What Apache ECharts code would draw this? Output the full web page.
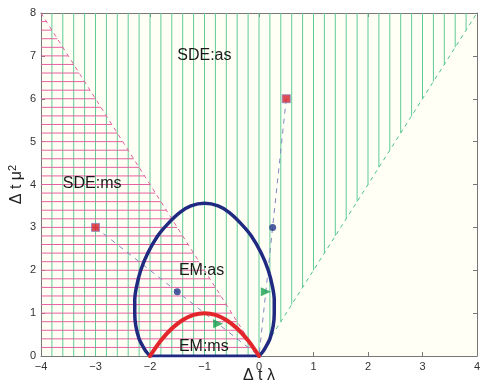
<!DOCTYPE html>
<html><head><meta charset="utf-8">
<script src="https://cdn.jsdelivr.net/npm/echarts@6/dist/echarts.min.js"></script>
<style>html,body{margin:0;padding:0;background:#fff}#c{width:480px;height:387px}</style>
</head><body><div id="c"></div>
<script>
// ---- data ----
const xTicks = [-4, -3, -2, -1, 0, 1, 2, 3, 4];
const yTicks = [0, 1, 2, 3, 4, 5, 6, 7, 8];
// SDE boundaries (dashed lines)
const sdeMsLine = [[-4, 8], [0, 0]];
const sdeAsLine = [[0, 0], [4, 8]];
// EM mean-square boundary (red)
const emMsX = [-2, -1.8, -1.6, -1.4, -1.2, -1, -0.8, -0.6, -0.4, -0.2, 0];
const emMsY = [0, 0.36, 0.64, 0.84, 0.96, 1, 0.96, 0.84, 0.64, 0.36, 0];
// EM asymptotic boundary (blue)
const emAsX = [-2.00, -2.07, -2.12, -2.20, -2.26, -2.28, -2.28, -2.25, -2.17, -2.04, -1.86, -1.66, -1.45, -1.25, -1.00,
               -0.75, -0.55, -0.34, -0.14, 0.04, 0.17, 0.25, 0.28, 0.28, 0.26, 0.20, 0.12, 0.07, 0.00];
const emAsY = [0, 0.1, 0.2, 0.4, 0.7, 1.0, 1.3, 1.6, 2.0, 2.4, 2.8, 3.1, 3.35, 3.5, 3.56,
               3.5, 3.35, 3.1, 2.8, 2.4, 2.0, 1.6, 1.3, 1.0, 0.7, 0.4, 0.2, 0.1, 0];
const emAsBase = [[-2, 0], [0, 0]];
// sample points
const squaresX = [-3, 0.5], squaresY = [3, 6];
const dotsX = [-1.5, 0.25], dotsY = [1.5, 3];
const triX = [-0.75, 0.125], triY = [0.75, 1.5];
// region labels
const labelText = ['SDE:as', 'SDE:ms', 'EM:as', 'EM:ms'];
const labelX = [-1.5, -3.6, -1.47, -1.47];
const labelY = [7.0, 4.02, 2.0, 0.23];
const hatchStep = 0.2;

// ---- hatching (texture for the SDE regions) ----
const greenHatch = [];
for (let k = -19; k <= 19; k++) {
  const x = k * hatchStep;
  const yb = Math.max(0, x * (sdeAsLine[1][1] / sdeAsLine[1][0]));
  if (yb < 8) greenHatch.push([x, yb, x, 8]);
}
const pinkHatch = [];
for (let k = 1; k <= 39; k++) {
  const y = k * hatchStep;
  const xe = y * (sdeMsLine[0][0] / sdeMsLine[0][1]);
  pinkHatch.push([-4, y, xe, y]);
}

const FONT = 'Liberation Sans, Arial, Helvetica, sans-serif';
const zip = (a, b) => a.map((v, i) => [v, b[i]]);
const minus = v => (v < 0 ? '\u2212' + (-v) : String(v));

function segSeries(data, color, z) {
  return {
    type: 'custom', data: data, z: z, silent: true, clip: true,
    encode: { x: [0, 2], y: [1, 3] },
    renderItem: function (params, api) {
      const p1 = api.coord([api.value(0), api.value(1)]);
      const p2 = api.coord([api.value(2), api.value(3)]);
      return { type: 'line', shape: { x1: p1[0], y1: p1[1], x2: p2[0], y2: p2[1] },
               style: { stroke: color, lineWidth: 1 } };
    }
  };
}
function dashLine(pts, color, dash, z) {
  return { type: 'line', data: pts, showSymbol: false, silent: true, z: z,
           lineStyle: { color: color, width: 1, type: dash } };
}

const chart = echarts.init(document.getElementById('c'), null, { renderer: 'canvas' });
chart.setOption({
  animation: false,
  backgroundColor: '#ffffff',
  grid: { left: 41, right: 3, top: 13, bottom: 31, show: true, backgroundColor: '#fffff6', borderWidth: 0,
          containLabel: false, outerBoundsMode: 'none' },
  xAxis: [{
    type: 'value', min: -4, max: 4, interval: 1,
    axisLine: { show: true, onZero: false, lineStyle: { color: '#777', width: 1 } },
    axisTick: { inside: true, length: 4, lineStyle: { color: '#777' } },
    axisLabel: { formatter: minus, color: '#333', fontSize: 11, fontFamily: FONT, margin: 5 },
    splitLine: { show: false },
    name: '{a|\u0394 t \u03bb}', nameLocation: 'middle', nameGap: 12, nameMoveOverlap: false,
    nameTextStyle: { rich: { a: { fontSize: 16, fontFamily: FONT, color: '#222' } } }
  }, {
    type: 'value', position: 'top', min: -4, max: 4, interval: 1,
    axisLine: { show: true, onZero: false, lineStyle: { color: '#777', width: 1 } },
    axisTick: { inside: true, length: 4, lineStyle: { color: '#777' } },
    axisLabel: { show: false }, splitLine: { show: false }
  }],
  yAxis: [{
    type: 'value', min: 0, max: 8, interval: 1,
    axisLine: { show: true, onZero: false, lineStyle: { color: '#777', width: 1 } },
    axisTick: { inside: true, length: 4, lineStyle: { color: '#777' } },
    axisLabel: { color: '#333', fontSize: 11, fontFamily: FONT, margin: 5 },
    splitLine: { show: false },
    name: '{a|\u0394 t \u03bc}{s|2}', nameLocation: 'middle', nameGap: 15, nameRotate: 90, nameMoveOverlap: false,
    nameTextStyle: { rich: {
      a: { fontSize: 16, fontFamily: FONT, color: '#222' },
      s: { fontSize: 11, fontFamily: FONT, color: '#222', verticalAlign: 'top', padding: [0, 0, 8, 0] }
    } }
  }, {
    type: 'value', position: 'right', min: 0, max: 8, interval: 1,
    axisLine: { show: true, onZero: false, lineStyle: { color: '#777', width: 1 } },
    axisTick: { inside: true, length: 4, lineStyle: { color: '#777' } },
    axisLabel: { show: false }, splitLine: { show: false }
  }],
  series: [
    segSeries(greenHatch, '#5fcb95', 1),
    segSeries(pinkHatch, '#e5609f', 2),
    dashLine(sdeMsLine, '#e5609f', [4, 4], 3),
    dashLine(sdeAsLine, '#4fc48a', [4, 4], 3),
    dashLine([[squaresX[0], squaresY[0]], [0, 0]], '#8088c0', [5, 5], 4),
    dashLine([[squaresX[1], squaresY[1]], [0, 0]], '#8088c0', [5, 5], 4),
    { type: 'line', data: zip(emAsX, emAsY), showSymbol: false, smooth: 0.3, silent: true, z: 6,
      lineStyle: { color: '#1f2a80', width: 3.5, cap: 'round', join: 'round' } },
    { type: 'line', data: emAsBase, showSymbol: false, silent: true, z: 6,
      lineStyle: { color: '#1f2a80', width: 3 } },
    { type: 'line', data: zip(emMsX, emMsY), showSymbol: false, smooth: 0.3, silent: true, z: 7,
      lineStyle: { color: '#e2262b', width: 4, cap: 'round' } },
    { type: 'scatter', data: zip(squaresX, squaresY), symbol: 'rect', symbolSize: 8, z: 8,
      itemStyle: { color: '#d8202a', borderColor: '#8d86c0', borderWidth: 1 } },
    { type: 'scatter', data: zip(dotsX, dotsY), symbol: 'circle', symbolSize: 7, z: 8,
      itemStyle: { color: '#23368a' } },
    { type: 'scatter', data: zip(triX, triY), symbol: 'triangle', symbolSize: [9, 10], symbolRotate: -90, z: 8,
      itemStyle: { color: '#16a050' } },
    { type: 'custom', z: 9, silent: true, clip: false,
      data: labelText.map((t, i) => [labelX[i], labelY[i], t]),
      encode: { x: 0, y: 1 },
      renderItem: function (params, api) {
        const p = api.coord([api.value(0), api.value(1)]);
        return { type: 'text', x: p[0], y: p[1],
                 style: { text: labelText[params.dataIndex], fill: '#1a1a1a', fontSize: 16, fontFamily: FONT,
                          align: 'left', verticalAlign: 'middle' } };
      } }
  ]
});
</script></body></html>
